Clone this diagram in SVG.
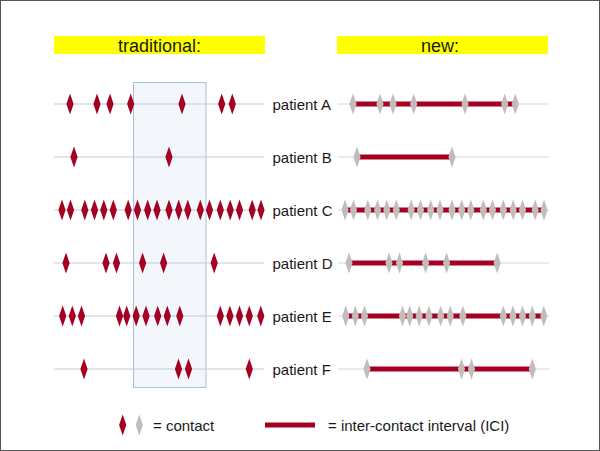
<svg xmlns="http://www.w3.org/2000/svg" xmlns:xlink="http://www.w3.org/1999/xlink" width="600" height="451" viewBox="0 0 600 451">
<style>
text{font-family:"Liberation Sans",Arial,sans-serif;fill:#1a1a1a}
.lbl{font-size:15px}
.ttl{font-size:18px;text-anchor:middle}
.ll{stroke:#c3cbda;stroke-width:1}
.rl{stroke:#d6d6d6;stroke-width:1}
.bar{stroke:#a50021;stroke-width:5}
.r{fill:#a50021}
.g{fill:#c2bcbc}
</style>
<defs>
<path id="d" d="M0,-10.5 L3.6,0 L0,10.5 L-3.6,0Z"/>
</defs>
<rect x="0.5" y="0.5" width="599" height="450" fill="#fff" stroke="#555"/>
<rect x="54" y="36" width="211" height="18" fill="#ffff00"/>
<text class="ttl" x="159.5" y="51.5">traditional:</text>
<rect x="337" y="36" width="211" height="18" fill="#ffff00"/>
<text class="ttl" x="440" y="51.5">new:</text>
<rect id="window" x="133.5" y="82.5" width="72.5" height="305" fill="#f3f7fc" stroke="#a9c1dc" stroke-width="1"/>
<g id="connectors">
<line class="ll" x1="54" y1="104" x2="264" y2="104"/>
<line class="ll" x1="54" y1="157" x2="264" y2="157"/>
<line class="ll" x1="54" y1="210" x2="264" y2="210"/>
<line class="ll" x1="54" y1="263" x2="264" y2="263"/>
<line class="ll" x1="54" y1="316" x2="264" y2="316"/>
<line class="ll" x1="54" y1="369" x2="264" y2="369"/>
<line class="rl" x1="338" y1="104" x2="549" y2="104"/>
<line class="rl" x1="338" y1="157" x2="549" y2="157"/>
<line class="rl" x1="338" y1="210" x2="549" y2="210"/>
<line class="rl" x1="338" y1="263" x2="549" y2="263"/>
<line class="rl" x1="338" y1="316" x2="549" y2="316"/>
<line class="rl" x1="338" y1="369" x2="549" y2="369"/>
<line class="bar" x1="353" y1="104" x2="515" y2="104"/>
<line class="bar" x1="357" y1="157" x2="452" y2="157"/>
<line class="bar" x1="345" y1="210" x2="544" y2="210"/>
<line class="bar" x1="349" y1="263" x2="497" y2="263"/>
<line class="bar" x1="346" y1="316" x2="543" y2="316"/>
<line class="bar" x1="367" y1="369" x2="532" y2="369"/>
</g>
<g id="patientA">
<g class="r" transform="translate(0,104)"><use href="#d" x="70"/><use href="#d" x="97"/><use href="#d" x="110"/><use href="#d" x="130.7"/><use href="#d" x="182"/><use href="#d" x="221.7"/><use href="#d" x="232.3"/></g>
<text class="lbl" x="272.5" y="109.5">patient A</text>
<g class="g" transform="translate(283,104)"><use href="#d" x="70"/><use href="#d" x="97"/><use href="#d" x="110"/><use href="#d" x="130.7"/><use href="#d" x="182"/><use href="#d" x="221.7"/><use href="#d" x="232.3"/></g>
</g>
<g id="patientB">
<g class="r" transform="translate(0,157)"><use href="#d" x="74"/><use href="#d" x="169"/></g>
<text class="lbl" x="272.5" y="162.5">patient B</text>
<g class="g" transform="translate(283,157)"><use href="#d" x="74"/><use href="#d" x="169"/></g>
</g>
<g id="patientC">
<g class="r" transform="translate(0,210)"><use href="#d" x="62"/><use href="#d" x="70.5"/><use href="#d" x="84.8"/><use href="#d" x="94.5"/><use href="#d" x="103.8"/><use href="#d" x="113.3"/><use href="#d" x="128.2"/><use href="#d" x="137.5"/><use href="#d" x="147.7"/><use href="#d" x="157"/><use href="#d" x="169"/><use href="#d" x="178.7"/><use href="#d" x="187.8"/><use href="#d" x="200.3"/><use href="#d" x="209.5"/><use href="#d" x="220.3"/><use href="#d" x="230.2"/><use href="#d" x="239.5"/><use href="#d" x="252.2"/><use href="#d" x="261"/></g>
<text class="lbl" x="272.5" y="215.5">patient C</text>
<g class="g" transform="translate(283,210)"><use href="#d" x="62"/><use href="#d" x="70.5"/><use href="#d" x="84.8"/><use href="#d" x="94.5"/><use href="#d" x="103.8"/><use href="#d" x="113.3"/><use href="#d" x="128.2"/><use href="#d" x="137.5"/><use href="#d" x="147.7"/><use href="#d" x="157"/><use href="#d" x="169"/><use href="#d" x="178.7"/><use href="#d" x="187.8"/><use href="#d" x="200.3"/><use href="#d" x="209.5"/><use href="#d" x="220.3"/><use href="#d" x="230.2"/><use href="#d" x="239.5"/><use href="#d" x="252.2"/><use href="#d" x="261"/></g>
</g>
<g id="patientD">
<g class="r" transform="translate(0,263)"><use href="#d" x="66"/><use href="#d" x="106"/><use href="#d" x="116.5"/><use href="#d" x="142.6"/><use href="#d" x="163.6"/><use href="#d" x="214.2"/></g>
<text class="lbl" x="272.5" y="268.5">patient D</text>
<g class="g" transform="translate(283,263)"><use href="#d" x="66"/><use href="#d" x="106"/><use href="#d" x="116.5"/><use href="#d" x="142.6"/><use href="#d" x="163.6"/><use href="#d" x="214.2"/></g>
</g>
<g id="patientE">
<g class="r" transform="translate(0,316)"><use href="#d" x="62.7"/><use href="#d" x="72.3"/><use href="#d" x="81.5"/><use href="#d" x="119.5"/><use href="#d" x="126.7"/><use href="#d" x="136.2"/><use href="#d" x="146"/><use href="#d" x="157.7"/><use href="#d" x="167.3"/><use href="#d" x="179.8"/><use href="#d" x="220.3"/><use href="#d" x="229.9"/><use href="#d" x="239.5"/><use href="#d" x="249.3"/><use href="#d" x="260.8"/></g>
<text class="lbl" x="272.5" y="321.5">patient E</text>
<g class="g" transform="translate(283,316)"><use href="#d" x="62.7"/><use href="#d" x="72.3"/><use href="#d" x="81.5"/><use href="#d" x="119.5"/><use href="#d" x="126.7"/><use href="#d" x="136.2"/><use href="#d" x="146"/><use href="#d" x="157.7"/><use href="#d" x="167.3"/><use href="#d" x="179.8"/><use href="#d" x="220.3"/><use href="#d" x="229.9"/><use href="#d" x="239.5"/><use href="#d" x="249.3"/><use href="#d" x="260.8"/></g>
</g>
<g id="patientF">
<g class="r" transform="translate(0,369)"><use href="#d" x="84"/><use href="#d" x="178.5"/><use href="#d" x="188.5"/><use href="#d" x="249.3"/></g>
<text class="lbl" x="272.5" y="374.5">patient F</text>
<g class="g" transform="translate(283,369)"><use href="#d" x="84"/><use href="#d" x="178.5"/><use href="#d" x="188.5"/><use href="#d" x="249.3"/></g>
</g>
<g id="legend">
<use href="#d" class="r" x="122.7" y="425"/>
<use href="#d" class="g" x="139.3" y="425"/>
<text class="lbl" x="153" y="430.5">= contact</text>
<line class="bar" x1="265" y1="425" x2="315" y2="425"/>
<text class="lbl" x="328" y="430.5">= inter-contact interval (ICI)</text>
</g>
</svg>
